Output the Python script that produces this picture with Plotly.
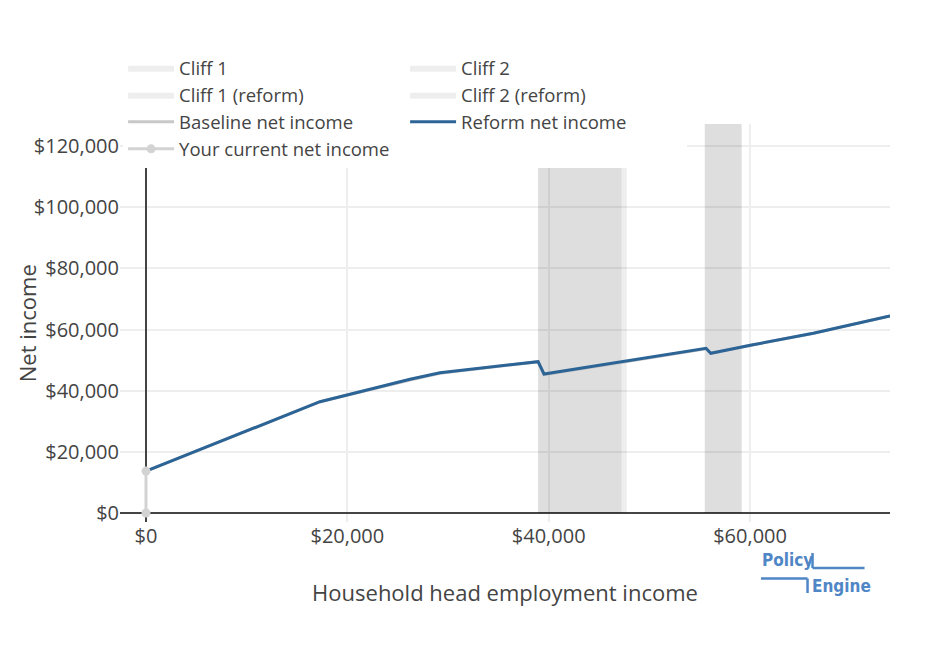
import plotly.graph_objects as go

# household head employment income and net income
income = [0, 17285, 26225, 29204, 38950, 39535, 55627, 56094, 60166, 66290, 73900]
reform_net = [13700, 36390, 43710, 45880, 49480, 45450, 53850, 52210, 54930, 58760, 64450]
baseline_net = [13700, 36390, 43500, 45700, 49480, 45170, 53700, 52210, 54930, 58760, 64450]

# cliff regions (start, end) of employment income
cliff1 = [38950, 47760]
cliff1_reform = [38950, 47230]
cliff2 = [55500, 59170]
cliff2_reform = [55500, 59170]
cliff_top = 127200

current_income = [0, 0]
current_net = [0, 13700]

blue = "#2C6496"
gray = "#C8C8C8"
logo_blue = "#4F86C6"


def cliff_trace(bounds, name):
    x0, x1 = bounds
    return go.Scatter(
        x=[x0, x0, x1, x1, x0],
        y=[0, cliff_top, cliff_top, 0, 0],
        fill="toself",
        fillcolor="rgba(0,0,0,0.065)",
        line=dict(width=0),
        mode="lines",
        name=name,
        hoverinfo="skip",
    )


fig = go.Figure(
    data=[
        cliff_trace(cliff1, "Cliff 1"),
        cliff_trace(cliff2, "Cliff 2"),
        cliff_trace(cliff1_reform, "Cliff 1 (reform)"),
        cliff_trace(cliff2_reform, "Cliff 2 (reform)"),
        go.Scatter(x=income, y=baseline_net, mode="lines",
                   line=dict(color=gray, width=3), name="Baseline net income"),
        go.Scatter(x=income, y=reform_net, mode="lines",
                   line=dict(color=blue, width=3), name="Reform net income"),
        go.Scatter(x=current_income, y=current_net, mode="lines+markers",
                   line=dict(color="#D3D3D3", width=3),
                   marker=dict(size=9, color="#D3D3D3"),
                   name="Your current net income"),
    ]
)

axis_style = dict(
    showgrid=True,
    gridcolor="#EEEEEE",
    gridwidth=1.5,
    zeroline=True,
    zerolinecolor="#444444",
    zerolinewidth=1.5,
    showline=False,
    ticks="",
    ticklen=0,
    automargin=False,
    tickfont=dict(size=20),
)

fig.update_layout(
    template="plotly_white",
    width=936,
    height=654,
    font=dict(family="Open Sans", size=18, color="#444444"),
    margin=dict(l=112, r=54, t=116, b=140, autoexpand=False),
    plot_bgcolor="white",
    paper_bgcolor="white",
    xaxis=dict(
        title=dict(text="Household head employment income", font=dict(size=22), standoff=37),
        range=[-2580, 73900],
        tickvals=[0, 20000, 40000, 60000],
        ticktext=["$0", "$20,000", "$40,000", "$60,000"],
        **axis_style,
    ),
    yaxis=dict(
        range=[-2943, 127200],
        tickvals=[0, 20000, 40000, 60000, 80000, 100000, 120000],
        ticktext=["$0", "$20,000", "$40,000", "$60,000", "$80,000", "$100,000", "$120,000"],
        **axis_style,
    ),
    legend=dict(
        orientation="h",
        x=0.004,
        xanchor="left",
        y=1.188,
        yanchor="top",
        bgcolor="white",
        itemwidth=46,
        entrywidth=221,
        font=dict(size=18.5),
    ),
    showlegend=True,
)

# y axis title, placed next to the tick labels
fig.add_annotation(text="Net income", xref="paper", yref="paper",
                   x=-0.1205, y=0.5, xanchor="center", yanchor="middle",
                   textangle=-90, showarrow=False, font=dict(size=22))

# PolicyEngine logo drawn as text and lines below the plot
logo_font = dict(family="Liberation Sans Narrow, DejaVu Sans Condensed, Roboto",
                 size=17, color=logo_blue)
fig.add_annotation(text="<b>Policy</b>", xref="paper", yref="paper",
                   x=0.8315, y=-0.0956, xanchor="left", yanchor="middle",
                   showarrow=False, font=logo_font)
fig.add_annotation(text="<b>Engine</b>", xref="paper", yref="paper",
                   x=0.8961, y=-0.1616, xanchor="left", yanchor="middle",
                   showarrow=False, font=logo_font)
logo_lines = [
    (0.8994, -0.0779, 0.8994, -0.1156),
    (0.8994, -0.1156, 0.9669, -0.1156),
    (0.8325, -0.1420, 0.8929, -0.1420),
    (0.8929, -0.1420, 0.8929, -0.1784),
]
for x0, y0, x1, y1 in logo_lines:
    fig.add_shape(type="line", xref="paper", yref="paper",
                  x0=x0, y0=y0, x1=x1, y1=y1,
                  line=dict(color=logo_blue, width=2.5))

fig.write_html("out.html")
